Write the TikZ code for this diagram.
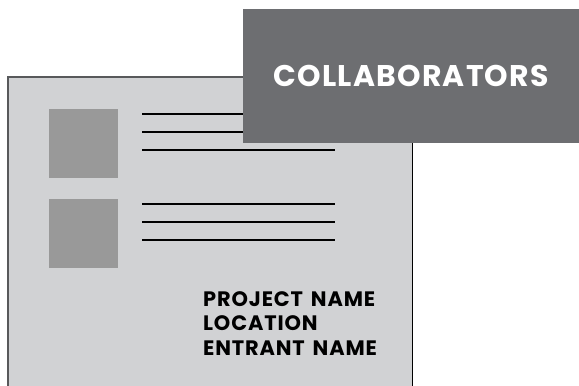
\documentclass[tikz,border=0pt]{standalone}
\usepackage{fontspec}
\setmainfont{Poppins}
\newfontfamily\widefont[LetterSpace=4,WordSpace=1.5]{Poppins}
\usetikzlibrary{positioning}
\usepackage{xcolor}
\definecolor{cardgray}{HTML}{D1D2D4}
\definecolor{edgegray}{HTML}{58595B}
\definecolor{boxgray}{HTML}{6D6E71}
\definecolor{photogray}{HTML}{999999}

\tikzset{
  photo/.style={fill=photogray, minimum width=69bp, minimum height=69bp, inner sep=0pt, anchor=north west},
  textline/.style={line width=2.6bp, black},
  infotext/.style={font=\widefont\fontsize{21}{24}\selectfont\bfseries, text=black, inner sep=0pt, anchor=base west}
}

\begin{document}
\begin{tikzpicture}[x=1bp, y=-1bp]
        \useasboundingbox (0,0) rectangle (579,385);

        % Card
        \node (card) [fill=cardgray, minimum width=404bp, minimum height=330bp, inner sep=0pt, anchor=north west] at (8,77) {};
        \draw[edgegray, line width=1.2bp] (card.south west) -- (card.north west) -- (card.north east);
        \draw[black, line width=1bp] (card.north east) -- (card.south east);

        % Photos
        \node (photoa) [photo] at (49,109) {};
        \node (photob) [photo] at (49,199) {};

        % Text lines
        \foreach \y in {114,132,150,204,222,240}
            \draw[textline] (142,\y) -- (335,\y);

        % Details
        \node (proj) [infotext] at (203,306) {PROJECT NAME};
        \node (loc) [infotext] at ([yshift=-24.7bp]proj.base west) {LOCATION};
        \node (entrant) [infotext] at ([yshift=-24.7bp]loc.base west) {ENTRANT NAME};

        % Banner
        \node (collab) [fill=boxgray, text=white, minimum width=336bp, minimum height=134bp, inner sep=0pt, anchor=north west,
            font=\widefont\fontsize{30}{32}\selectfont\bfseries] at (243,9) {COLLABORATORS};
    \end{tikzpicture}
\end{document}
